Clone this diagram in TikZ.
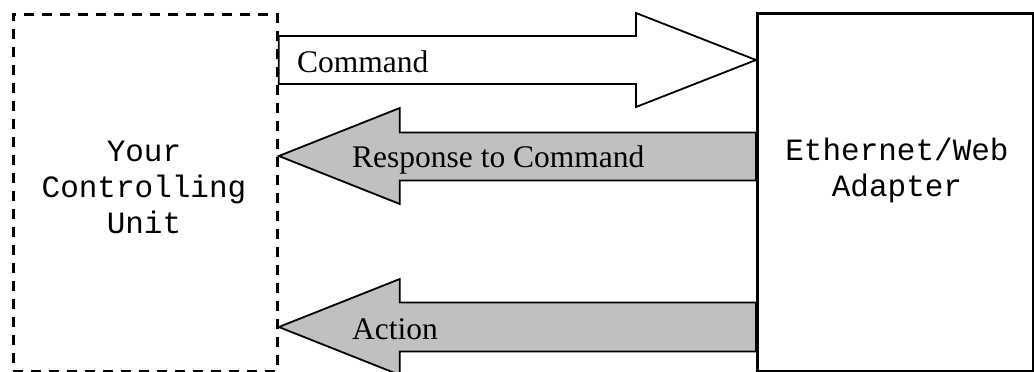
\documentclass[tikz,border=0pt]{standalone}
\usepackage{fontspec}
\setmainfont{Liberation Serif}
\newfontfamily\boxfont{Liberation Mono}
\usetikzlibrary{calc}
\definecolor{shaftgray}{HTML}{C0C0C0}
\tikzset{
  unitbox/.style={draw, line width=2.8pt, dash pattern=on 10pt off 8pt},
  adapterbox/.style={draw, line width=2.6pt},
  blockarrow/.style={draw, line width=1.8pt, line join=miter},
  boxtext/.style={font=\boxfont\fontsize{31}{36}\selectfont, align=center, inner sep=0pt},
  arrowtext/.style={font=\fontsize{31.5}{36}\selectfont, inner sep=0pt, anchor=base west},
}
\begin{document}
\begin{tikzpicture}[x=1pt, y=-1pt]
\useasboundingbox (0,0) rectangle (1034,372);

% controlling unit (dashed) and adapter outline
\node[unitbox, minimum width=264pt, minimum height=357pt, inner sep=0pt, anchor=north west] (unit) at (12,13) {};
\node[boxtext] (unittext) at (144,187) {Your\\Controlling\\Unit};

% arrow tips and tails on the box edges
\coordinate (cmdtail) at (unit.east |- 0,60);
\coordinate (cmdtip)  at (756,60);
\coordinate (rsptip)  at (unit.east |- 0,156);
\coordinate (rsptail) at (756,156);
\coordinate (acttip)  at (unit.east |- 0,327);
\coordinate (acttail) at (756,327);

% Command: white block arrow to the adapter
\draw[blockarrow, fill=white]
  ($(cmdtail)+(0,-24)$) -- ($(cmdtip)+(-120,-24)$) -- ($(cmdtip)+(-120,-47)$) -- (cmdtip)
  -- ($(cmdtip)+(-120,47)$) -- ($(cmdtip)+(-120,24)$) -- ($(cmdtail)+(0,24)$) -- cycle;
% Response to Command: grey block arrow back to the unit
\draw[blockarrow, fill=shaftgray]
  ($(rsptail)+(0,-23.5)$) -- ($(rsptip)+(121,-23.5)$) -- ($(rsptip)+(121,-48)$) -- (rsptip)
  -- ($(rsptip)+(121,48)$) -- ($(rsptip)+(121,24.5)$) -- ($(rsptail)+(0,24.5)$) -- cycle;
% Action: grey block arrow back to the unit
\draw[blockarrow, fill=shaftgray]
  ($(acttail)+(0,-24.5)$) -- ($(acttip)+(121,-24.5)$) -- ($(acttip)+(121,-48)$) -- (acttip)
  -- ($(acttip)+(121,48)$) -- ($(acttip)+(121,24.5)$) -- ($(acttail)+(0,24.5)$) -- cycle;

\node[adapterbox, fill=white, minimum width=276pt, minimum height=358pt, inner sep=0pt, anchor=north west] (adapter) at (756,12) {};
\node[boxtext] (adaptertext) at (897,170) {Ethernet/Web\\Adapter};

% arrow labels
\node[arrowtext] (cmdlabel) at (297,72) {Command};
\node[arrowtext] (rsplabel) at (352,167) {Response to Command};
\node[arrowtext] (actlabel) at (352,339) {Action};
\end{tikzpicture}
\end{document}
